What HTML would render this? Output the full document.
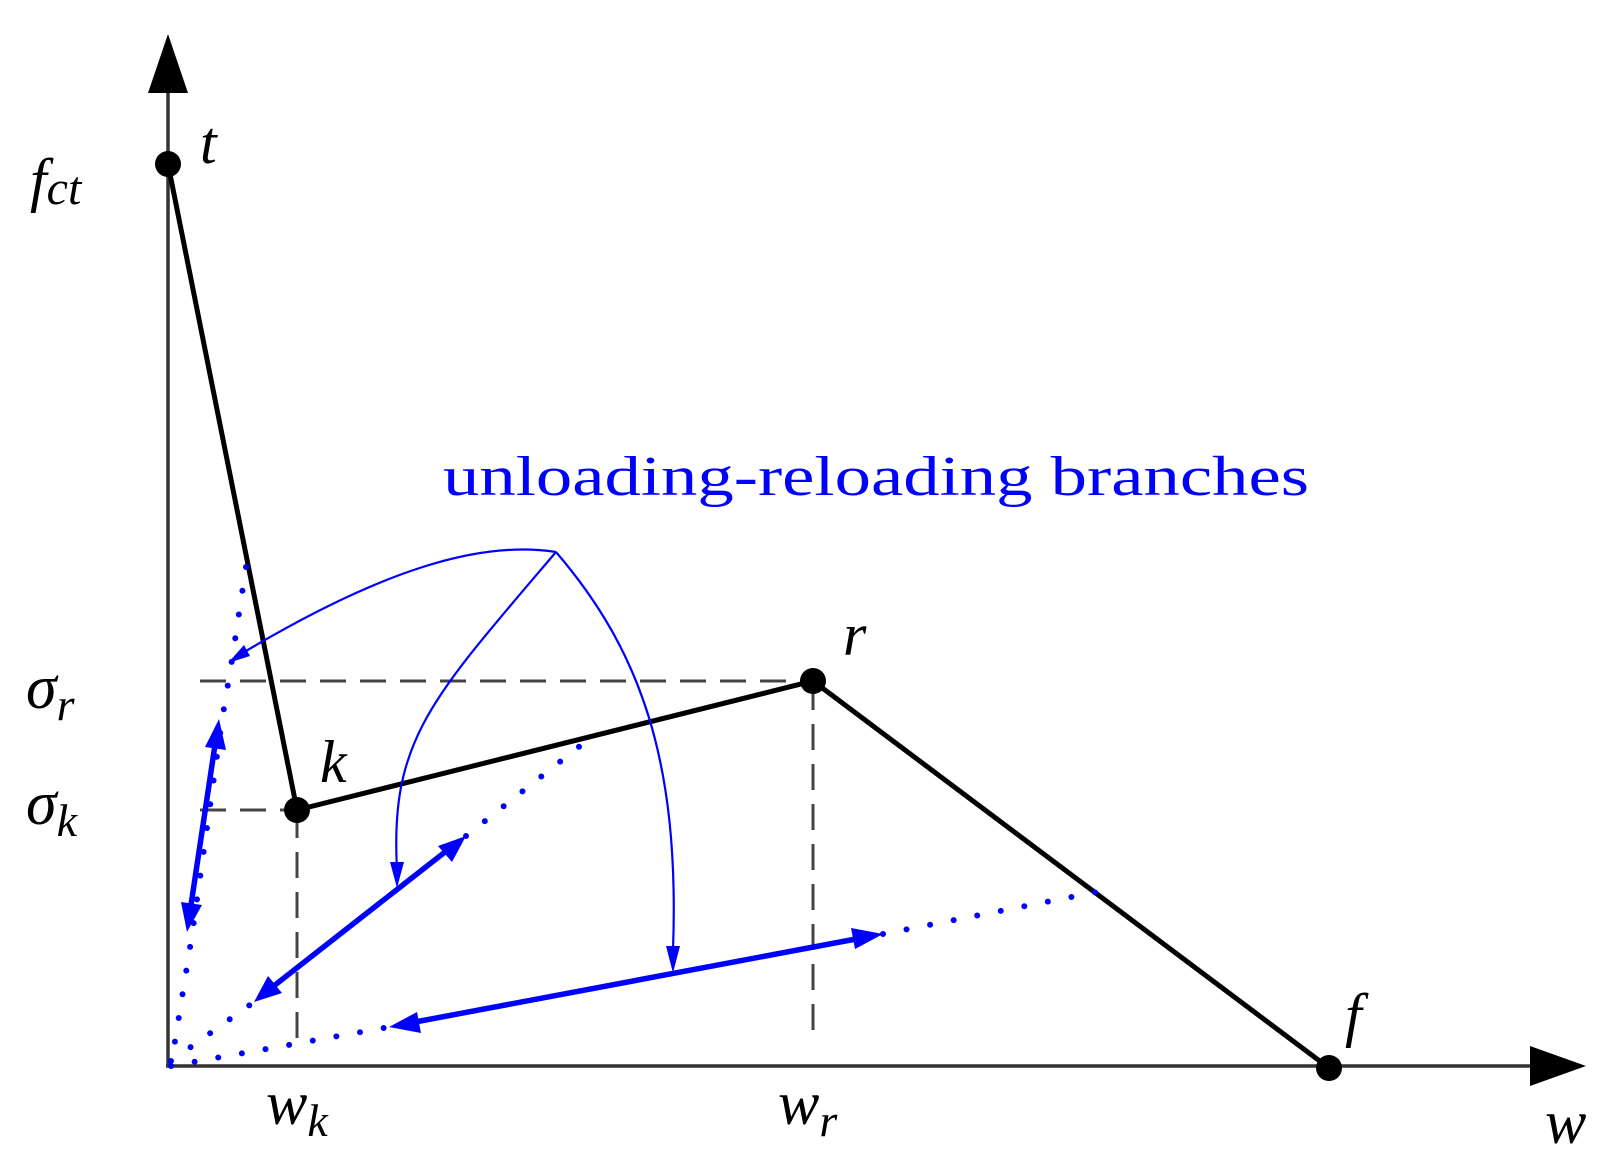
<!DOCTYPE html>
<html><head><meta charset="utf-8"><style>
html,body{margin:0;padding:0;background:#fff;}
svg{display:block}
.m{font-family:"Liberation Serif",serif;font-style:italic;fill:#000}
</style></head><body>
<svg width="1615" height="1172" viewBox="0 0 1615 1172" xmlns="http://www.w3.org/2000/svg">
<!-- axes -->
<line x1="168" y1="1066" x2="168" y2="90" stroke="#333" stroke-width="3.5"/>
<polygon points="168,34 148,93 188,93" fill="#000"/>
<line x1="166" y1="1066" x2="1535" y2="1066" stroke="#333" stroke-width="3.5"/>
<polygon points="1586,1066 1530,1046 1530,1086" fill="#000"/>
<!-- dashed -->
<g stroke="#444" stroke-width="3" stroke-dasharray="26 14" fill="none">
<line x1="200" y1="681" x2="812" y2="681"/>
<line x1="200" y1="810" x2="297" y2="810"/>
<line x1="297" y1="812" x2="297" y2="1040"/>
<line x1="813" y1="684" x2="813" y2="1040"/>
</g>
<!-- main curve -->
<polyline points="168,164 297,810 813,681 1329,1068" fill="none" stroke="#000" stroke-width="5"/>
<g fill="#000">
<circle cx="168" cy="164" r="13"/>
<circle cx="297" cy="810" r="13"/>
<circle cx="813" cy="681" r="13"/>
<circle cx="1329" cy="1068" r="13"/>
</g>
<!-- dotted blue -->
<g stroke="#0000ff" stroke-width="6" stroke-linecap="round" stroke-dasharray="0 24" fill="none">
<path d="M246,567 L232,660 L222,720 L192,935 L172,1060"/>
<path d="M171,1061 L254,1002"/>
<path d="M466,836 L590,738"/>
<path d="M171,1066 L389,1027"/>
<path d="M883,934 L1097,892"/>
</g>
<!-- thick double arrows -->
<g stroke="#0000ff" stroke-width="5.5" fill="none">
<line x1="191" y1="905" x2="215" y2="745"/>
<line x1="275" y1="985" x2="445" y2="852"/>
<line x1="415" y1="1022" x2="856" y2="939"/>
</g>
<g fill="#0000ff">
<polygon points="219,719 226,750 205,747"/>
<polygon points="187,932 181,902 202,905"/>
<polygon points="466,836 452,862 438,846"/>
<polygon points="254,1002 268,976 282,993"/>
<polygon points="883,934 855,949 851,928"/>
<polygon points="389,1027 417,1012 421,1033"/>
</g>
<!-- callout curves -->
<g stroke="#0000ff" stroke-width="2.2" fill="none">
<path d="M556,552 C480,540 380,570 236,657"/>
<path d="M556,552 C430,700 390,740 397,870"/>
<path d="M556,552 C640,650 680,760 673,950"/>
</g>
<g fill="#0000ff">
<polygon points="228,663 244,645 250,656"/>
<polygon points="397,888 390,862 404,862"/>
<polygon points="673,973 666,946 680,946"/>
</g>
<text x="443" y="495" font-family="Liberation Serif,serif" font-size="56" fill="#0000ff" textLength="866" lengthAdjust="spacingAndGlyphs">unloading-reloading branches</text>
<!-- labels -->
<text class="m" x="30" y="200" font-size="60">f<tspan font-size="48" dy="4">ct</tspan></text>
<text class="m" x="200" y="163" font-size="60">t</text>
<text class="m" x="26" y="708" font-size="62">σ<tspan font-size="46" dy="12">r</tspan></text>
<text class="m" x="26" y="824" font-size="62">σ<tspan font-size="46" dy="12">k</tspan></text>
<text class="m" x="320" y="782" font-size="60">k</text>
<text class="m" x="843" y="655" font-size="60">r</text>
<text class="m" x="1345" y="1035" font-size="60">f</text>
<text class="m" x="266" y="1124" font-size="62">w<tspan font-size="46" dy="12">k</tspan></text>
<text class="m" x="778" y="1124" font-size="62">w<tspan font-size="46" dy="12">r</tspan></text>
<text class="m" x="1545" y="1143" font-size="62">w</text>
</svg>
</body></html>
